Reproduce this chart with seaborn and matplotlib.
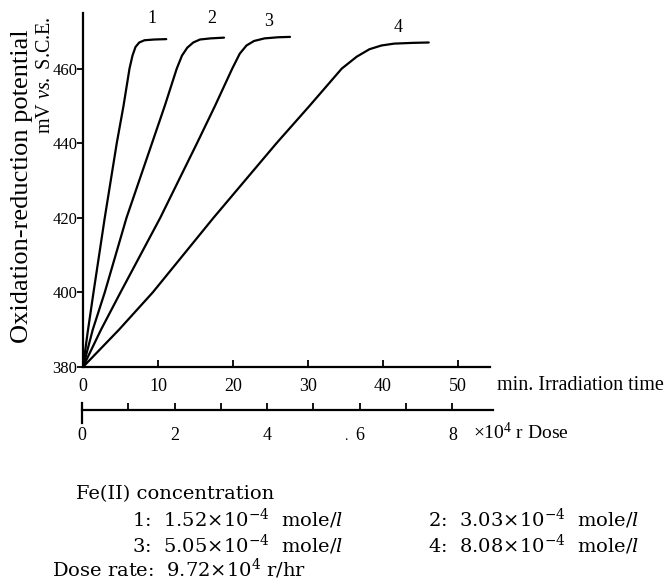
import numpy as np
import pandas as pd
import matplotlib
matplotlib.use("Agg")
import matplotlib.pyplot as plt
import seaborn as sns

# ---- data ----
t1 = [0, 0.6, 1.4, 2.9, 4.5, 5.4, 6.2, 6.6, 7.0, 7.5, 8.2, 9.5, 11.1]
v1 = [380, 389, 400, 420, 440, 450, 460, 463.5, 465.8, 467.0, 467.6, 467.8, 467.9]
t2 = [0, 1.3, 2.9, 5.8, 9.2, 10.9, 12.5, 13.2, 13.9, 14.7, 15.6, 17.0, 18.8]
v2 = [380, 390, 400, 420, 440, 450, 460, 463.5, 465.6, 467.0, 467.8, 468.1, 468.3]
t3 = [0, 2.4, 5.0, 10.3, 15.2, 17.6, 19.9, 20.9, 21.8, 22.8, 24.2, 26.0, 27.6]
v3 = [380, 390, 400, 420, 440, 450, 460, 464.0, 466.2, 467.4, 468.1, 468.4, 468.5]
t4 = [0, 4.8, 9.3, 17.4, 25.8, 30.2, 34.5, 36.5, 38.2, 39.8, 41.5, 44.0, 46.1]
v4 = [380, 390, 400, 420, 440, 450, 460, 463.2, 465.2, 466.2, 466.7, 466.9, 467.0]
curve_names = ["1", "2", "3", "4"]
label_t = [9.2, 17.1, 24.7, 42.0]
label_v = [473.3, 473.3, 472.5, 470.9]

time_ticks = [0, 10, 20, 30, 40, 50]
mv_ticks = [380, 400, 420, 440, 460]
dose_major = [0, 2, 4, 6, 8]
dose_minor = [1, 3, 5, 7]
dose_rate = 9.72  # x10^4 r/hr

conc_lines = [r"1:  1.52$\times$10$^{-4}$  mole/$l$", r"2:  3.03$\times$10$^{-4}$  mole/$l$",
              r"3:  5.05$\times$10$^{-4}$  mole/$l$", r"4:  8.08$\times$10$^{-4}$  mole/$l$"]

df = pd.concat([
    pd.DataFrame({"time": t, "mv": v, "curve": n})
    for t, v, n in zip([t1, t2, t3, t4], [v1, v2, v3, v4], curve_names)
], ignore_index=True)

sns.set_theme(style="white")
plt.rcParams["font.family"] = ["Liberation Serif", "DejaVu Serif"]
plt.rcParams["mathtext.fontset"] = "custom"
plt.rcParams["mathtext.rm"] = "Liberation Serif"
plt.rcParams["mathtext.it"] = "Liberation Serif:italic"
plt.rcParams["text.color"] = "black"

W, H = 671, 581
fig = plt.figure(figsize=(W / 100, H / 100), dpi=100)
fig.patch.set_facecolor("white")

def fx(px):
    return px / W

def fy(py):
    return 1 - py / H

x0, x1, ytop, ybot = 83, 490, 13, 367
px_per_min = 7.5
px_per_mv = 3.73
ax = fig.add_axes([fx(x0), fy(ybot), (x1 - x0) / W, (ybot - ytop) / H])
ax.set_facecolor("white")
sns.lineplot(data=df, x="time", y="mv", hue="curve", palette=["black"] * 4,
             estimator=None, sort=False, linewidth=1.6, legend=False, ax=ax)
ax.set_xlim(0, (x1 - x0) / px_per_min)
ax.set_ylim(380, 380 + (ybot - ytop) / px_per_mv)
for s in ["top", "right"]:
    ax.spines[s].set_visible(False)
for s in ["left", "bottom"]:
    ax.spines[s].set_color("black")
    ax.spines[s].set_linewidth(1.6)
ax.set_xticks(time_ticks)
ax.set_xticklabels([str(v) for v in time_ticks], fontsize=13)
ax.set_yticks(mv_ticks)
ax.set_yticklabels([str(v) for v in mv_ticks], fontsize=12)
ax.tick_params(axis="x", bottom=True, direction="in", length=5, width=1.3, pad=8, colors="black")
ax.tick_params(axis="y", left=True, direction="out", length=4, width=1.3, pad=0, colors="black")
ax.set_xlabel("")
ax.set_ylabel("")
for n, lt, lv in zip(curve_names, label_t, label_v):
    ax.text(lt, lv, n, fontsize=13, ha="center", va="center", clip_on=False)

# dose axis
d_top, d_bot, d_line = 403, 423, 410
ax2 = fig.add_axes([fx(x0 - 1), fy(d_bot), (x1 + 3 - x0 + 1) / W, (d_bot - d_top) / H])
ax2.patch.set_alpha(0)
ax2.set_xlim(0, (x1 + 3 - x0 + 1) / px_per_min * dose_rate / 60)
ax2.set_ylim(0, 1)
for s in ["top", "right"]:
    ax2.spines[s].set_visible(False)
ax2.spines["bottom"].set_position(("axes", (d_bot - d_line) / (d_bot - d_top)))
for s in ["left", "bottom"]:
    ax2.spines[s].set_color("black")
    ax2.spines[s].set_linewidth(1.6)
ax2.set_yticks([])
ax2.set_xticks(dose_major)
ax2.set_xticklabels([str(v) for v in dose_major], fontsize=13)
ax2.set_xticks(dose_minor, minor=True)
ax2.tick_params(axis="x", which="both", bottom=True, direction="in", length=5, width=1.3,
                pad=12, colors="black")

# texts
fig.text(fx(497), fy(385), "min. Irradiation time", fontsize=14.5, va="center", ha="left")
fig.text(fx(473), fy(433), r"$\times$10$^4$ r Dose", fontsize=14, va="center", ha="left")
fig.text(fx(346), fy(436), ".", fontsize=10, va="center", ha="center")
fig.text(fx(22), fy(186), "Oxidation-reduction potential", fontsize=19,
         rotation=90, ha="center", va="center")
fig.text(fx(45), fy(75), r"mV $\it{vs.}$ S.C.E.", fontsize=14.5,
         rotation=90, ha="center", va="center")

bkw = dict(fontsize=14, va="center", family="DejaVu Serif", math_fontfamily="dejavuserif")
fig.text(fx(76), fy(494), "Fe(II) concentration", **bkw)
fig.text(fx(132), fy(519), conc_lines[0], **bkw)
fig.text(fx(428), fy(519), conc_lines[1], **bkw)
fig.text(fx(132), fy(545), conc_lines[2], **bkw)
fig.text(fx(428), fy(545), conc_lines[3], **bkw)
fig.text(fx(52), fy(569), r"Dose rate:  9.72$\times$10$^4$ r/hr", **bkw)

fig.savefig("out.png", dpi=100, facecolor="white")
